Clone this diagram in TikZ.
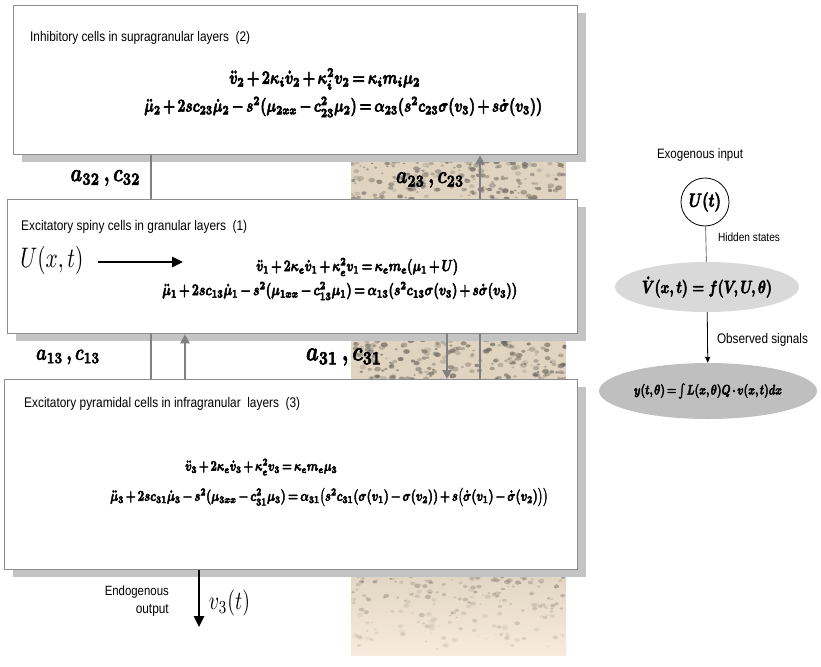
\documentclass[tikz,border=0pt]{standalone}
\usepackage{amsmath}
\usepackage{fontspec}
\newfontfamily\nar[FakeStretch=0.85]{Liberation Sans}
\usetikzlibrary{arrows.meta,shadows,shapes.geometric}
\definecolor{boxline}{HTML}{8C8C8C}
\definecolor{shadowc}{HTML}{C4C4C4}
\definecolor{connc}{HTML}{808080}
\definecolor{texbase}{HTML}{E0D4C1}
\definecolor{texlight}{HTML}{F8EBDD}
\definecolor{spotc}{HTML}{6A665E}
\definecolor{ellone}{HTML}{D9D9D9}
\definecolor{elltwo}{HTML}{BFBFBF}
\newcommand{\fitw}[2]{\resizebox{#1pt}{!}{#2}}
\newcommand{\fiteq}[2]{\scalebox{1}[1.32]{\resizebox{#1pt}{!}{#2}}}
\newcommand{\fitstroke}[3]{{\boldmath\scalebox{1}[1.32]{\resizebox{#1pt}{!}{\boldmath\special{pdf:literal direct 2 Tr #2 w}#3\special{pdf:literal direct 0 Tr}}}}}
\newcommand{\fitheavy}[2]{\fitstroke{#1}{0.35}{#2}}
\newcommand{\fitbold}[2]{\fitstroke{#1}{0.22}{#2}}
\newcommand{\tightmath}{\thinmuskip=2mu\medmuskip=2.5mu\thickmuskip=3mu}
\begin{document}
\begin{tikzpicture}[x=1pt,y=-1pt,
  layerbox/.style={draw=boxline, line width=1.3pt, fill=white, anchor=north west, inner sep=0pt,
     drop shadow={shadow xshift=8pt, shadow yshift=-7pt, fill=shadowc, opacity=1}},
  connline/.style={draw=connc, line width=2.6pt},
  connarrow/.style={connline, -{Triangle[length=9pt,width=9pt]}},
  blackarrow/.style={line width=2.6pt, -{Triangle[length=11pt,width=10pt]}},
  lab/.style={font=\nar, inner sep=0pt},
  eq/.style={inner sep=0pt, anchor=west, font=\tightmath},
  sym/.style={inner sep=0pt},
]
\useasboundingbox (0,0) rectangle (821,666);
\fill[white] (0,0) rectangle (821,666);
% texture column
\fill[texbase] (351,150) rectangle (566,569);
\shade[top color=texbase, bottom color=texlight] (351,569) rectangle (566,655);
\begin{scope}
\clip (351,150) rectangle (566,655);
\pgfmathsetseed{11}
\foreach \i in {1,...,240}{
  \pgfmathsetmacro\xx{351+215*rnd}
  \pgfmathsetmacro\yy{154+46*rnd}
  \pgfmathsetmacro\rr{1.2+2.4*rnd}
  \pgfmathsetmacro\op{0.2+0.5*rnd}
  \fill[spotc,opacity=\op] (\xx,\yy) ellipse [x radius=\rr pt, y radius=0.7*\rr pt];
}
\foreach \i in {1,...,240}{
  \pgfmathsetmacro\xx{351+215*rnd}
  \pgfmathsetmacro\yy{333+47*rnd}
  \pgfmathsetmacro\rr{1.2+2.4*rnd}
  \pgfmathsetmacro\op{0.2+0.5*rnd}
  \fill[spotc,opacity=\op] (\xx,\yy) ellipse [x radius=\rr pt, y radius=0.7*\rr pt];
}
\foreach \i in {1,...,280}{
  \pgfmathsetmacro\xx{351+215*rnd}
  \pgfmathsetmacro\tt{rnd}
  \pgfmathsetmacro\yy{569+80*\tt*\tt}
  \pgfmathsetmacro\rr{1.0+2.2*rnd}
  \pgfmathsetmacro\op{(0.2+0.5*rnd)*(1-0.8*\tt)}
  \fill[spotc,opacity=\op] (\xx,\yy) ellipse [x radius=\rr pt, y radius=0.7*\rr pt];
}
\end{scope}
% layer boxes
\node[layerbox, minimum width=564pt, minimum height=149pt] (b1) at (13,5) {};
\node[layerbox, minimum width=570pt, minimum height=134pt] (b2) at (7,199) {};
\node[layerbox, minimum width=573pt, minimum height=190pt] (b3) at (4,379) {};
% connector columns
\coordinate (xA) at (151,0);
\coordinate (xB) at (185,0);
\coordinate (xC) at (447,0);
\coordinate (xD) at (480,0);
\draw[connline] (b1.south -| xA) -- (b2.north -| xA);
\draw[connline] (b2.south -| xA) -- (b3.north -| xA);
\draw[connarrow] (b2.north -| xD) -- (b1.south -| xD);
\draw[connline] (b3.north -| xD) -- (b2.south -| xD);
\draw[connarrow] (b3.north -| xB) -- (b2.south -| xB);
\draw[connarrow] (b2.south -| xC) -- (b3.north -| xC);
% titles
\node[lab, anchor=west] (t1) at (30,38) {\fitw{220}{Inhibitory cells in supragranular layers\ \ (2)}};
\node[lab, anchor=west] (t2) at (21,227) {\fitw{226}{Excitatory spiny cells in granular layers\ \ (1)}};
\node[lab, anchor=west] (t3) at (24,404) {\fitw{276}{Excitatory pyramidal cells in infragranular\ \ layers\ \ (3)}};
% equations box 1
\node[eq] (e11) at (229,79) {\fitheavy{191}{$\ddot{v}_2+2\kappa_i\dot{v}_2+\kappa_i^2v_2=\kappa_i m_i\mu_2$}};
\node[eq] (e12) at (144,107) {\fitheavy{398}{$\ddot{\mu}_2+2sc_{23}\dot{\mu}_2-s^2(\mu_{2xx}-c_{23}^2\mu_2)=\alpha_{23}(s^2c_{23}\sigma(v_3)+s\dot{\sigma}(v_3))$}};
% equations box 2
\node[eq] (e21) at (256,267) {\fitheavy{202}{$\ddot{v}_1+2\kappa_e\dot{v}_1+\kappa_e^2v_1=\kappa_e m_e(\mu_1+U)$}};
\node[eq] (e22) at (162,291) {\fitheavy{355}{$\ddot{\mu}_1+2sc_{13}\dot{\mu}_1-s^2(\mu_{1xx}-c_{13}^2\mu_1)=\alpha_{13}(s^2c_{13}\sigma(v_3)+s\dot{\sigma}(v_3))$}};
% equations box 3
\node[eq] (e31) at (185,467) {\fitheavy{152}{$\ddot{v}_3+2\kappa_e\dot{v}_3+\kappa_e^2v_3=\kappa_e m_e\mu_3$}};
\node[eq] (e32) at (110,497) {\fitheavy{438}{$\ddot{\mu}_3+2sc_{31}\dot{\mu}_3-s^2(\mu_{3xx}-c_{31}^2\mu_3)=\alpha_{31}\bigl(s^2c_{31}(\sigma(v_1)-\sigma(v_2))+s\bigl(\dot{\sigma}(v_1)-\dot{\sigma}(v_2)\bigr)\bigr)$}};
% connection labels
\node[sym] (l32) at (105.5,178) {\fitbold{70}{$a_{32}\,,c_{32}$}};
\node[sym] (l23) at (430,180) {\fitbold{68}{$a_{23}\,,c_{23}$}};
\node[sym] (l13) at (68,357) {\fitbold{64}{$a_{13}\,,c_{13}$}};
\node[sym] (l31) at (344,357) {\fitbold{76}{$a_{31}\,,c_{31}$}};
% input and output
\node[sym] (ux) at (52,260) {\fiteq{63}{$U(x,t)$}};
\coordinate (uend) at (183,262);
\draw[blackarrow] (ux.east |- uend) ++(14,0) -- (uend);
\coordinate (xO) at (199,0);
\coordinate (oend) at (199,627);
\draw[blackarrow] (b3.south -| xO) -- (oend);
\node[sym] (v3) at (229.5,603) {\fiteq{41}{$v_3(t)$}};
\node[lab, anchor=east] (endo) at (169,592) {\fitw{64}{Endogenous}};
\node[lab, anchor=east] (outp) at (169,610) {\fitw{33}{output}};
% right panel
\node[lab] (exo) at (700,155) {\fitw{86}{Exogenous input}};
\node[draw, circle, minimum size=48pt, line width=0.8pt, inner sep=0pt] (u) at (705,202) {\fitheavy{32}{$U(t)$}};
\node[ellipse, fill=ellone, minimum width=146pt, minimum height=50pt, inner sep=0pt] (s1) at (707,287) {\fitheavy{130}{$\dot{V}(x,t)=f(V,U,\theta)$}};
\node[ellipse, fill=elltwo, minimum width=218pt, minimum height=56pt, inner sep=0pt, font=\tightmath] (s2) at (708,391) {\fitheavy{148}{$y(t,\theta)=\int L(x,\theta)Q\cdot v(x,t)dx$}};
\draw[connc, line width=0.9pt] (u) -- (s1);
\draw[line width=0.8pt, -{Triangle[length=6pt,width=5pt]}] (s1) -- (s2);
\node[lab] (hid) at (749,237) {\fitw{62}{Hidden states}};
\node[lab] (obs) at (762.5,340) {\fitw{91}{Observed signals}};
\end{tikzpicture}
\end{document}
